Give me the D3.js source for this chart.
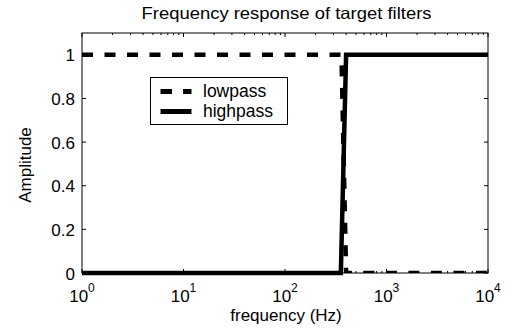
<!DOCTYPE html>
<html><head><meta charset="utf-8">
<script src="https://cdn.jsdelivr.net/npm/d3@7"></script>
<style>body{margin:0;background:#fff}svg{display:block}text{font-family:"Liberation Sans",Arial,sans-serif}</style>
</head><body><div id="c"></div>
<script>
const title = "Frequency response of target filters";
const xLabel = "frequency (Hz)";
const yLabel = "Amplitude";
const lowpassFreq = [1, 360, 400, 10000];
const lowpassAmp  = [1, 1, 0, 0];
const highpassFreq = [1, 355, 400, 10000];
const highpassAmp  = [0, 0, 1, 1];
const xTickExp = [0, 1, 2, 3, 4];
const yTicks = [0, 0.2, 0.4, 0.6, 0.8, 1];
const seriesNames = ["lowpass", "highpass"];

const W = 515, H = 331;
const m = {l: 82, r: 27, t: 33, b: 58};
const svg = d3.select("#c").append("svg").attr("width", W).attr("height", H);
const x = d3.scaleLog().domain([1, 10000]).range([m.l, W - m.r]);
const y = d3.scaleLinear().domain([0, 1.1]).range([H - m.b, m.t]);
const x0 = m.l, x1 = W - m.r, y0 = H - m.b, y1 = m.t;

svg.append("clipPath").attr("id", "clip").append("rect")
  .attr("x", x0).attr("y", y1).attr("width", x1 - x0).attr("height", y0 - y1);

// ticks
const g = svg.append("g").attr("stroke", "#000").attr("stroke-width", 1);
const minor = [];
for (let e = 0; e < 4; e++) for (let k = 2; k <= 9; k++) minor.push(k * Math.pow(10, e));
xTickExp.forEach(e => {
  const xx = x(Math.pow(10, e));
  g.append("line").attr("x1", xx).attr("x2", xx).attr("y1", y0).attr("y2", y0 - 4);
  g.append("line").attr("x1", xx).attr("x2", xx).attr("y1", y1).attr("y2", y1 + 4);
});
minor.forEach(v => {
  const xx = x(v);
  g.append("line").attr("x1", xx).attr("x2", xx).attr("y1", y0).attr("y2", y0 - 2);
  g.append("line").attr("x1", xx).attr("x2", xx).attr("y1", y1).attr("y2", y1 + 2);
});
yTicks.forEach(v => {
  const yy = y(v);
  g.append("line").attr("x1", x0).attr("x2", x0 + 4).attr("y1", yy).attr("y2", yy);
  g.append("line").attr("x1", x1).attr("x2", x1 - 4).attr("y1", yy).attr("y2", yy);
});

// tick labels
yTicks.forEach(v => {
  svg.append("text").attr("x", x0 - 7).attr("y", y(v) + 6.5).attr("text-anchor", "end")
    .attr("font-size", 17).text(d3.format("")(v));
});
xTickExp.forEach(e => {
  const t = svg.append("text").attr("x", x(Math.pow(10, e))).attr("y", 301.5)
    .attr("text-anchor", "middle").attr("font-size", 17);
  t.append("tspan").text("10");
  t.append("tspan").attr("dy", -10).attr("font-size", 12).text(e);
});

// lines
const line = d3.line().x(d => x(d[0])).y(d => y(d[1]));
const lp = lowpassFreq.map((f, i) => [f, lowpassAmp[i]]);
const hp = highpassFreq.map((f, i) => [f, highpassAmp[i]]);
svg.append("path").attr("d", line(hp)).attr("fill", "none").attr("stroke", "#000").attr("stroke-width", 4.5);
svg.append("path").attr("d", line(lp)).attr("fill", "none").attr("stroke", "#000").attr("stroke-width", 4.5)
  .attr("stroke-dasharray", "11,11.5").attr("clip-path", "url(#clip)");

// frame
svg.append("rect").attr("x", x0).attr("y", y1).attr("width", x1 - x0).attr("height", y0 - y1)
  .attr("fill", "none").attr("stroke", "#000").attr("stroke-width", 1);

// legend
const lg = svg.append("g");
lg.append("rect").attr("x", 150.5).attr("y", 77.5).attr("width", 137).attr("height", 47)
  .attr("fill", "#fff").attr("stroke", "#000").attr("stroke-width", 1);
lg.append("line").attr("x1", 160.5).attr("x2", 191.5).attr("y1", 91.5).attr("y2", 91.5)
  .attr("stroke", "#000").attr("stroke-width", 5).attr("stroke-dasharray", "11.5,11");
lg.append("line").attr("x1", 160.5).attr("x2", 191.5).attr("y1", 111.5).attr("y2", 111.5)
  .attr("stroke", "#000").attr("stroke-width", 5);
lg.append("text").attr("x", 203).attr("y", 97).attr("font-size", 17.5).text(seriesNames[0]);
lg.append("text").attr("x", 203).attr("y", 117).attr("font-size", 17.5).text(seriesNames[1]);

// labels
svg.append("text").attr("x", 286.5).attr("y", 19).attr("text-anchor", "middle")
  .attr("font-size", 16.5).attr("textLength", 290).attr("lengthAdjust", "spacingAndGlyphs").text(title);
svg.append("text").attr("x", (x0 + x1) / 2 + 1).attr("y", 321).attr("text-anchor", "middle")
  .attr("font-size", 17).text(xLabel);
svg.append("text").attr("transform", "translate(31,165) rotate(-90)")
  .attr("text-anchor", "middle").attr("font-size", 17).text(yLabel);
</script></body></html>
